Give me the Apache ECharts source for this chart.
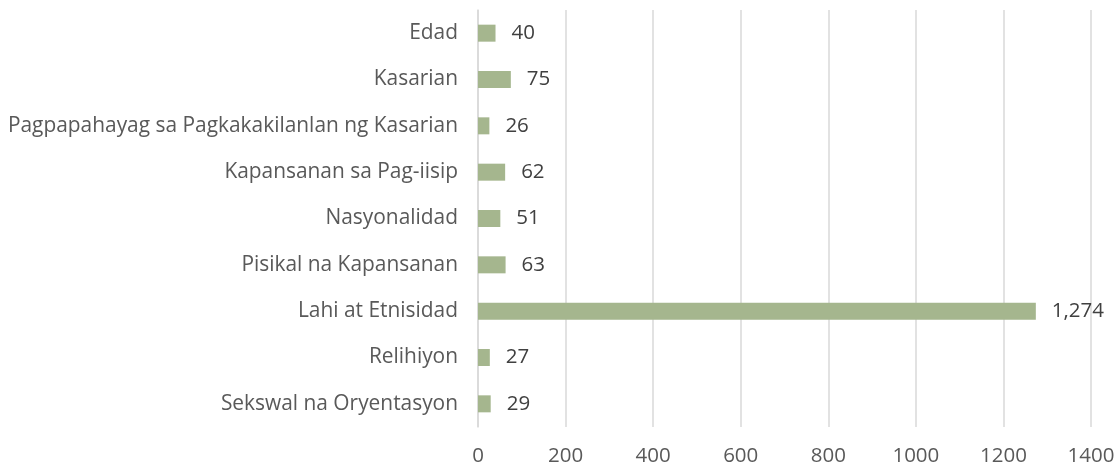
<!DOCTYPE html>
<html>
<head>
<meta charset="utf-8">
<script src="https://cdn.jsdelivr.net/npm/echarts@6/dist/echarts.min.js"></script>
<style>
html, body { margin: 0; padding: 0; background: #fff; }
#chart { width: 1119px; height: 472px; }
</style>
</head>
<body>
<div id="chart"></div>
<script>
// top to bottom, as in the picture
const categories = [
  'Edad',
  'Kasarian',
  'Pagpapahayag sa Pagkakakilanlan ng Kasarian',
  'Kapansanan sa Pag-iisip',
  'Nasyonalidad',
  'Pisikal na Kapansanan',
  'Lahi at Etnisidad',
  'Relihiyon',
  'Sekswal na Oryentasyon'
]
const values = [40, 75, 26, 62, 51, 63, 1274, 27, 29]
const xTicks = [0, 200, 400, 600, 800, 1000, 1200, 1400]

const font = '"Open Sans", Lato, sans-serif'
const chart = echarts.init(document.getElementById('chart'))
chart.setOption({
  animation: false,
  grid: { left: 478, right: 28, top: 10, bottom: 45 },
  xAxis: {
    type: 'value',
    min: xTicks[0],
    max: xTicks[xTicks.length - 1],
    interval: 200,
    axisLine: { show: false },
    axisTick: { show: false },
    splitLine: { lineStyle: { color: '#d9d9d9', width: 1.5 } },
    axisLabel: { color: '#595959', fontSize: 20.5, fontFamily: font, margin: 19, formatter: v => String(v) }
  },
  yAxis: {
    type: 'category',
    inverse: true,
    data: categories,
    axisLine: { show: true, lineStyle: { color: '#d9d9d9', width: 1.5 } },
    axisTick: { show: false },
    axisLabel: { color: '#595959', fontSize: 20.9, fontFamily: font, margin: 20 }
  },
  series: [{
    type: 'bar',
    data: values,
    barWidth: 17,
    itemStyle: { color: '#a5b68e' },
    label: {
      show: true,
      position: 'right',
      distance: 16,
      color: '#404040',
      fontSize: 20.5,
      fontFamily: font,
      formatter: p => p.value.toLocaleString('en-US')
    }
  }]
})
</script>
</body>
</html>
